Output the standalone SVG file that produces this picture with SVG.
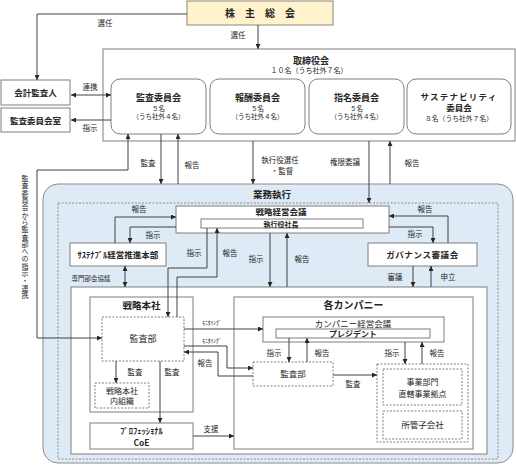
<svg xmlns="http://www.w3.org/2000/svg" width="516" height="466" viewBox="0 0 516 466">
<defs>
<style>
.t{font-family:"Noto Sans CJK JP","Noto Sans",sans-serif;fill:#262626;text-anchor:middle}
.b{font-weight:bold}
.lb{font-size:7.5px}
.box{fill:#fff;stroke:#7f7f7f;stroke-width:1}
.dot{fill:#fff;stroke:#7f7f7f;stroke-width:1;stroke-dasharray:2 1.5}
.ln{fill:none;stroke:#404040;stroke-width:1}
.ae{marker-end:url(#ah)}
.ab{marker-start:url(#ah);marker-end:url(#ah)}
.vt{writing-mode:vertical-rl;text-orientation:upright;text-anchor:start}
</style>
<marker id="ah" viewBox="0 0 6 6" refX="6" refY="3" markerWidth="5" markerHeight="5" orient="auto-start-reverse" markerUnits="userSpaceOnUse"><path d="M0,0 L6,3 L0,6 z" fill="#262626"/></marker>
</defs>
<rect width="516" height="466" fill="#fff"/>

<g id="shareholders">
<rect x="187" y="1" width="146" height="24" fill="#FFF2CC" stroke="#8a8a7a"/>
<text class="t b" x="260" y="17" font-size="10">株　主　総　会</text>
</g>

<g id="board">
<rect x="103" y="49" width="412" height="92" class="box"/>
<text class="t b" x="311" y="63.5" font-size="9">取締役会</text>
<text class="t" x="309" y="73" font-size="7">１０名（うち社外７名）</text>
</g>

<g id="audit-committee">
<rect x="111" y="79" width="95" height="55" rx="9" class="box"/>
<text class="t b" x="158.5" y="101" font-size="9">監査委員会</text>
<text class="t" x="158.5" y="110.5" font-size="6.5">５名</text>
<text class="t" x="158.5" y="119" font-size="6.5">（うち社外４名）</text>
</g>
<g id="compensation-committee">
<rect x="210" y="79" width="95" height="55" rx="9" class="box"/>
<text class="t b" x="257.5" y="101" font-size="9">報酬委員会</text>
<text class="t" x="257.5" y="110.5" font-size="6.5">５名</text>
<text class="t" x="257.5" y="119" font-size="6.5">（うち社外４名）</text>
</g>
<g id="nomination-committee">
<rect x="309" y="79" width="95" height="55" rx="9" class="box"/>
<text class="t b" x="356.5" y="101" font-size="9">指名委員会</text>
<text class="t" x="356.5" y="110.5" font-size="6.5">５名</text>
<text class="t" x="356.5" y="119" font-size="6.5">（うち社外４名）</text>
</g>
<g id="sustainability-committee">
<rect x="407" y="79" width="104" height="55" rx="9" class="box"/>
<text class="t b" x="459" y="100" font-size="8.5" letter-spacing="1.2">サステナビリティ</text>
<text class="t b" x="459" y="110.5" font-size="8.5">委員会</text>
<text class="t" x="459" y="120.5" font-size="6.8">８名（うち社外７名）</text>
</g>

<g id="accounting-auditor">
<rect x="1" y="80" width="69" height="25" class="box"/>
<text class="t b" x="35.5" y="96" font-size="8.5">会計監査人</text>
</g>
<g id="audit-committee-office">
<rect x="1" y="108" width="69" height="24" class="box"/>
<text class="t b" x="35.5" y="123.5" font-size="8.5">監査委員会室</text>
</g>

<g id="vertical-label">
<text class="t vt" x="25" y="175" font-size="7" letter-spacing="0.3">監査委員会から監査部への指示・連携</text>
</g>

<g id="execution">
<rect x="43" y="184" width="470" height="279" rx="15" fill="#DEEBF7" stroke="#8c8c8c"/>
<rect x="58" y="203" width="440" height="256" fill="none" stroke="#8c8c8c" stroke-dasharray="2 1.5"/>
<text class="t b" x="253" y="198" font-size="9.5" style="text-anchor:start">業務執行</text>
</g>

<g id="strategy-meeting">
<rect x="176" y="206" width="213" height="27" class="box"/>
<text class="t b" x="281" y="215.3" font-size="8.5">戦略経営会議</text>
<rect x="201" y="219" width="162" height="9" class="box"/>
<text class="t b" x="281" y="226.8" font-size="7">執行役社長</text>
</g>

<g id="sustainability-hq">
<rect x="70" y="243" width="96" height="23" class="box"/>
<text class="t b" x="118" y="258" font-size="8.5">ｻｽﾃﾅﾌﾞﾙ経営推進本部</text>
</g>

<g id="governance-council">
<rect x="368" y="243" width="109" height="23" class="box"/>
<text class="t b" x="422.5" y="258" font-size="8.5" letter-spacing="0.6">ガバナンス審議会</text>
</g>

<g id="org">
<rect x="71" y="287" width="416" height="167" class="box"/>
</g>

<g id="strategy-hq">
<rect x="90" y="297" width="103" height="115" class="box"/>
<text class="t b" x="141.5" y="309" font-size="9.5">戦略本社</text>
</g>
<g id="hq-audit">
<rect x="102" y="317" width="82" height="44" class="dot"/>
<text class="t" x="143" y="342" font-size="9">監査部</text>
</g>
<g id="hq-internal">
<rect x="95" y="383" width="54" height="25" class="dot"/>
<text class="t" x="122" y="394" font-size="8">戦略本社</text>
<text class="t" x="122" y="404" font-size="8">内組織</text>
</g>
<g id="coe">
<rect x="90" y="423" width="103" height="26" class="box"/>
<text class="t b" x="141.5" y="434" font-size="8.5">ﾌﾟﾛﾌｪｯｼｮﾅﾙ</text>
<text class="t b" x="141.5" y="446" font-size="8.5">CoE</text>
</g>

<g id="companies">
<rect x="234" y="297" width="239" height="152" class="box"/>
<text class="t b" x="353.5" y="309" font-size="10">各カンパニー</text>
</g>
<g id="company-meeting">
<rect x="263" y="317" width="181" height="25" class="box"/>
<text class="t" x="353" y="326.6" font-size="8.5">カンパニー経営会議</text>
<rect x="276" y="329" width="154" height="9" class="box"/>
<text class="t b" x="353" y="336.8" font-size="8">プレジデント</text>
</g>
<g id="company-audit">
<rect x="253" y="362" width="80" height="24" class="dot"/>
<text class="t" x="293" y="377" font-size="8.5">監査部</text>
</g>
<g id="business-units">
<rect x="377" y="364" width="91" height="78" class="dot"/>
<rect x="383" y="369" width="79" height="36" class="dot"/>
<text class="t" x="422.5" y="385" font-size="8">事業部門</text>
<text class="t" x="422.5" y="397" font-size="8">直轄事業拠点</text>
<rect x="383" y="411" width="79" height="28" class="dot"/>
<text class="t" x="422.5" y="428" font-size="8.5">所管子会社</text>
</g>

<g id="connectors">
<path class="ln ae" d="M187,14 H37 V80"/>
<path class="ln ae" d="M258,25 V49"/>
<path class="ln ab" d="M71,95 H111"/>
<path class="ln ae" d="M111,120 H71"/>
<path class="ln ab" d="M128,134 V170 H37 V338 H102"/>
<path class="ln ae" d="M161,134 V184"/>
<path class="ln ae" d="M178,184 V134"/>
<path class="ln ae" d="M253,141 V184"/>
<path class="ln ae" d="M369,141 V203"/>
<path class="ln ae" d="M390,184 V141"/>
<path class="ln ae" d="M115,243 V217 H176"/>
<path class="ln ae" d="M176,227 H130 V243"/>
<path class="ln ab" d="M125,266 V287"/>
<path class="ln ae" d="M207,228 V268 H168 V317"/>
<path class="ln ae" d="M177,317 V277 H217 V228"/>
<path class="ln ae" d="M270,233 V287"/>
<path class="ln ae" d="M287,287 V233"/>
<path class="ln ae" d="M448,243 V216 H389"/>
<path class="ln ae" d="M389,227 H433 V243"/>
<path class="ln ae" d="M413,266 V287"/>
<path class="ln ae" d="M431,287 V266"/>
<path class="ln ae" d="M116,361 V383"/>
<path class="ln ae" d="M160,361 V423"/>
<path class="ln ae" d="M193,436 H234"/>
<path class="ln ae" d="M184,329 H263"/>
<path class="ln ae" d="M184,346 H227 V368 H253"/>
<path class="ln ae" d="M253,376 H218 V352 H184"/>
<path class="ln ae" d="M289,338 V362"/>
<path class="ln ae" d="M307,362 V338"/>
<path class="ln ae" d="M405,342 V364"/>
<path class="ln ae" d="M422,364 V342"/>
<path class="ln ae" d="M333,375 H377"/>

<text class="t lb" x="105" y="26">選任</text>
<text class="t lb" x="238" y="38">選任</text>
<text class="t lb" x="90" y="90">連携</text>
<text class="t lb" x="90" y="131">指示</text>
<text class="t lb" x="148" y="166">監査</text>
<text class="t lb" x="192" y="168">報告</text>
<text class="t lb" x="280" y="163">執行役選任</text>
<text class="t lb" x="282" y="174">・監督</text>
<text class="t lb" x="345" y="165">権限委譲</text>
<text class="t lb" x="412" y="166">報告</text>
<text class="t lb" x="139" y="212">報告</text>
<text class="t lb" x="153" y="238">指示</text>
<text class="t" x="91" y="281" font-size="6.5">専門部会協議</text>
<text class="t lb" x="194" y="256">指示</text>
<text class="t lb" x="230" y="256">報告</text>
<text class="t lb" x="256" y="262">指示</text>
<text class="t lb" x="302" y="262">報告</text>
<text class="t lb" x="425" y="212">報告</text>
<text class="t lb" x="415" y="237">指示</text>
<text class="t lb" x="395" y="280">審議</text>
<text class="t lb" x="448" y="280">申立</text>
<text class="t lb" x="135" y="375">監査</text>
<text class="t lb" x="172" y="375">監査</text>
<text class="t lb" x="211" y="432">支援</text>
<text class="t" x="212" y="325" font-size="5.5">ﾓﾆﾀﾘﾝｸﾞ</text>
<text class="t" x="212" y="343" font-size="5.5">ﾓﾆﾀﾘﾝｸﾞ</text>
<text class="t lb" x="205" y="366">報告</text>
<text class="t lb" x="274" y="356">指示</text>
<text class="t lb" x="322" y="356">報告</text>
<text class="t lb" x="392" y="356">指示</text>
<text class="t lb" x="437" y="356">報告</text>
<text class="t lb" x="353" y="387">監査</text>
</g>
</svg>
